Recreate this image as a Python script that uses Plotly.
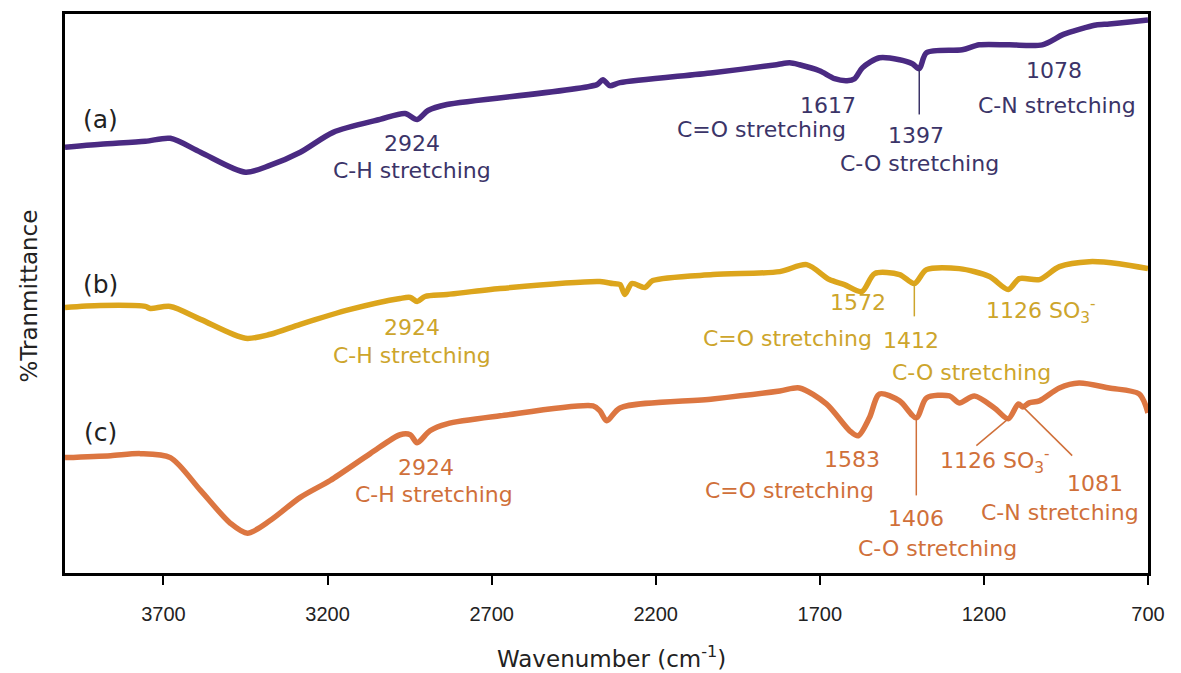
import plotly.graph_objects as go

# FTIR spectra, offset vertically (arbitrary %T units)
wn_a = [4000, 3892, 3755, 3679, 3587, 3450, 3374, 3283, 3183, 3040, 2964, 2927, 2894, 2836,
        2379, 2361, 2340, 2309, 2026, 1832, 1792, 1762, 1701, 1655, 1617, 1594, 1570, 1518,
        1457, 1418, 1397, 1375, 1266, 1214, 1122, 1022, 961, 925, 894, 858, 818, 757, 700]
t_a = [428, 431, 434, 437, 423, 403, 410, 423, 443, 456, 462, 456, 465, 471,
       491, 496, 490, 493, 503, 511, 513, 511, 505, 497, 495, 497, 508, 518,
       516, 512, 507, 523, 526, 531, 531, 531, 541, 545, 548, 551, 552, 554, 556]

wn_b = [4000, 3892, 3755, 3740, 3679, 3587, 3450, 3374, 3283, 3131, 2979, 2948, 2927, 2903,
        2836, 2674, 2370, 2331, 2309, 2294, 2273, 2233, 2209, 2026, 1822, 1740, 1671, 1625,
        1572, 1533, 1457, 1412, 1375, 1275, 1183, 1126, 1092, 1031, 970, 879, 788, 700]
t_b = [267, 269, 268, 266, 268, 255, 236, 240, 250, 265, 276, 277, 273, 278,
       280, 286, 293, 291, 290, 280, 291, 287, 294, 300, 303, 310, 295, 290,
       283, 301, 300, 291, 305, 306, 298, 285, 296, 295, 308, 313, 311, 306]

wn_c = [4000, 3861, 3770, 3679, 3587, 3496, 3444, 3374, 3283, 3192, 3070, 2979, 2948, 2927,
        2888, 2836, 2674, 2391, 2370, 2349, 2309, 2026, 1822, 1762, 1680, 1609, 1583, 1549,
        1518, 1457, 1406, 1375, 1305, 1275, 1229, 1168, 1126, 1095, 1081, 1062, 1031, 970,
        910, 818, 727, 700]
t_c = [116, 118, 120, 116, 83, 50, 40, 53, 76, 93, 120, 139, 139, 131,
       143, 150, 158, 168, 163, 153, 166, 175, 183, 186, 170, 143, 138, 156,
       180, 173, 156, 176, 178, 171, 178, 166, 155, 170, 167, 171, 173, 186,
       191, 186, 180, 161]

tick_vals = [3700, 3200, 2700, 2200, 1700, 1200, 700]

COL_A, TXT_A = "#4A2A82", "#3B3468"
COL_B, TXT_B = "#DCA51C", "#CDA52C"
COL_C, TXT_C = "#DC7641", "#D0703A"

fig = go.Figure()
for wn, t, col in [(wn_a, t_a, COL_A), (wn_b, t_b, COL_B), (wn_c, t_c, COL_C)]:
    fig.add_trace(go.Scatter(x=wn, y=t, mode="lines",
                             line=dict(color=col, width=5.5, shape="spline", smoothing=0.8),
                             showlegend=False, hoverinfo="skip"))

FONT = "DejaVu Sans"
ann = []

def label(x, y, text, color, size=22):
    ann.append(dict(x=x, y=y, xref="x", yref="y", text=text, showarrow=False,
                    font=dict(family=FONT, size=size, color=color),
                    xanchor="center", yanchor="middle"))

# spectrum tags
label(3892, 456, "(a)", "#222222", 25)
label(3892, 290, "(b)", "#222222", 25)
label(3892, 141, "(c)", "#222222", 25)

# (a)
label(2942, 432, "2924", TXT_A)
label(2942, 405, "C-H stretching", TXT_A)
label(1676, 470, "1617", TXT_A)
label(1877, 446, "C=O stretching", TXT_A)
label(1406, 440, "1397", TXT_A)
label(1396, 412, "C-O stretching", TXT_A)
label(986, 505, "1078", TXT_A)
label(977, 470, "C-N stretching", TXT_A)

# (b)
label(2942, 247, "2924", TXT_B)
label(2942, 219, "C-H stretching", TXT_B)
label(1585, 272, "1572", TXT_B)
label(1798, 236, "C=O stretching", TXT_B)
label(1421, 234, "1412", TXT_B)
label(1238, 202, "C-O stretching", TXT_B)
label(1025, 263, "1126 SO<sub>3</sub><sup>-</sup>", TXT_B)

# (c)
label(2900, 106, "2924", TXT_C)
label(2875, 79, "C-H stretching", TXT_C)
label(1603, 114, "1583", TXT_C)
label(1792, 83, "C=O stretching", TXT_C)
label(1406, 55, "1406", TXT_C)
label(1342, 25, "C-O stretching", TXT_C)
label(1165, 113, "1126 SO<sub>3</sub><sup>-</sup>", TXT_C)
label(861, 90, "1081", TXT_C)
label(967, 61, "C-N stretching", TXT_C)

# axis titles
ann.append(dict(x=-0.033, y=0.495, xref="paper", yref="paper", text="%Tranmittance",
                showarrow=False, textangle=-90, xanchor="center", yanchor="middle",
                font=dict(family=FONT, size=23, color="#222222")))
ann.append(dict(x=0.505, y=-0.151, xref="paper", yref="paper",
                text="Wavenumber (cm<sup>-1</sup>)",
                showarrow=False, xanchor="center", yanchor="middle",
                font=dict(family=FONT, size=23, color="#222222")))

shapes = [
    dict(type="line", xref="x", yref="y", x0=1397, x1=1397, y0=507, y1=461,
         line=dict(color=TXT_A, width=1.5)),
    dict(type="line", xref="x", yref="y", x0=1412, x1=1412, y0=291, y1=258,
         line=dict(color=TXT_B, width=1.5)),
    dict(type="line", xref="x", yref="y", x0=1406, x1=1406, y0=156, y1=78,
         line=dict(color=TXT_C, width=1.5)),
    dict(type="line", xref="x", yref="y", x0=1126, x1=1223, y0=155, y1=128,
         line=dict(color=TXT_C, width=1.5)),
    dict(type="line", xref="x", yref="y", x0=1081, x1=931, y0=167, y1=118,
         line=dict(color=TXT_C, width=1.5)),
]

fig.update_layout(
    width=1181, height=673,
    margin=dict(l=65, r=33, t=11, b=100),
    paper_bgcolor="white", plot_bgcolor="white",
    annotations=ann, shapes=shapes,
    xaxis=dict(range=[4000, 700], tickvals=tick_vals, ticks="outside", ticklen=9,
               tickwidth=2, tickcolor="black", showline=True, linewidth=2.5,
               linecolor="black", mirror=True, showgrid=False, zeroline=False,
               ticklabelstandoff=12,
               tickfont=dict(family="Liberation Sans", size=20, color="#222222")),
    yaxis=dict(range=[0, 562], showticklabels=False, ticks="", showline=True,
               linewidth=2.5, linecolor="black", mirror=True, showgrid=False,
               zeroline=False),
)

fig.write_html("out.html")
